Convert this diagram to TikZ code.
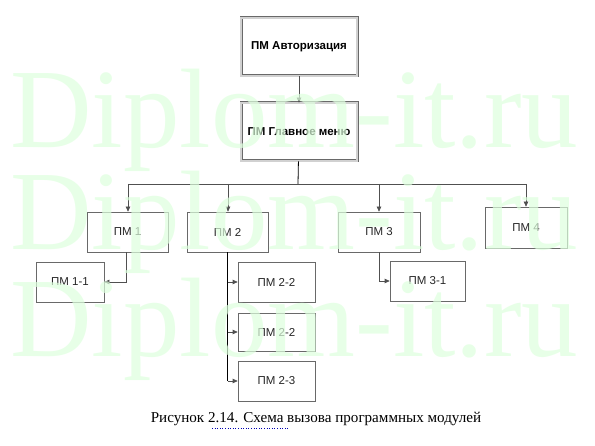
\documentclass[tikz,border=0pt]{standalone}
\usepackage{fontspec}
\setmainfont{Liberation Serif}
\setsansfont{Liberation Sans}
\usetikzlibrary{arrows.meta}
\definecolor{ln}{RGB}{80,80,80}
\definecolor{bx}{RGB}{105,105,105}
\definecolor{wm}{RGB}{222,255,222}
\begin{document}
\begin{tikzpicture}[x=1pt,y=-1pt,
  pmbox/.style={draw=bx, line width=0.7pt, inner sep=0pt, text=black!85,
    font=\sffamily\fontsize{11.5}{13}\selectfont},
  topbox/.style={pmbox, double=black!18, double distance=1.6pt, text=black,
    minimum width=116pt, minimum height=58pt,
    font=\sffamily\bfseries\fontsize{11.5}{13}\selectfont},
  wire/.style={draw=ln, line width=0.7pt},
  conn/.style={wire, -{Triangle[length=5pt,width=4.5pt]}},
  wmark/.style={text=wm, text opacity=0.7, inner sep=0pt, anchor=base west,
    font=\rmfamily\fontsize{113}{113}\selectfont},
  caption/.style={inner sep=0pt, anchor=base, font=\rmfamily\fontsize{15.1}{17}\selectfont}
]
\useasboundingbox (0,0) rectangle (595,446);
\fill[white] (0,0) rectangle (595,446);

\node[topbox] (auth) at (299,47) {ПМ Авторизация};
\node[topbox] (main) at (299,132) {ПМ Главное меню};

\node[pmbox, minimum width=81pt, minimum height=40pt] (pm1) at (127.5,232) {ПМ 1};
\node[pmbox, minimum width=81pt, minimum height=40pt] (pm2) at (227.5,232) {ПМ 2};
\node[pmbox, minimum width=82pt, minimum height=40pt] (pm3) at (379,232) {ПМ 3};
\node[pmbox, minimum width=82pt, minimum height=41pt] (pm4) at (526,227.5) {ПМ 4};

\node[pmbox, minimum width=68pt, minimum height=40pt] (pm11) at (70,282) {ПМ 1-1};
\node[pmbox, minimum width=77pt, minimum height=40pt] (pm22a) at (276.5,282) {ПМ 2-2};
\node[pmbox, minimum width=77pt, minimum height=38pt] (pm22b) at (276.5,332) {ПМ 2-2};
\node[pmbox, minimum width=77pt, minimum height=40pt] (pm23) at (276.5,381) {ПМ 2-3};
\node[pmbox, minimum width=75pt, minimum height=40pt] (pm31) at (427.5,281) {ПМ 3-1};

\draw[conn] (auth) -- (main);

\coordinate (bus) at (298,184);
\coordinate (b1) at (128,184);
\coordinate (b2) at (228,184);
\coordinate (b3) at (379,184);
\coordinate (b4) at (526,184);
\draw[line width=0.8pt, black] (main) -- (bus);
\draw[wire] (b1) -- (b4);
\draw[conn] (b1) -- (b1 |- pm1.north);
\draw[conn] (b2) -- (b2 |- pm2.north);
\draw[conn] (b3) -- (b3 |- pm3.north);
\draw[conn] (b4) -- (b4 |- pm4.north);

\draw[conn] ([xshift=-1.5pt]pm1.south) |- (pm11.east);
\draw[wire, black] (pm2.south) -- (pm2.south |- pm23.west);
\draw[conn] (pm2.south |- pm22a.west) -- (pm22a.west);
\draw[conn] (pm2.south |- pm22b.west) -- (pm22b.west);
\draw[conn] (pm2.south |- pm23.west) -- (pm23.west);
\draw[conn] (pm3.south) |- (pm31.west);

\node[caption] (cap) at (316,423) {Рисунок 2.14. Схема вызова программных модулей};
\draw[blue!70!black, line width=0.6pt, dotted] (212,428) -- (289,428);

\node[wmark] (w1) at (10,148) {Diplom-it.ru};
\node[wmark] (w2) at (10,250) {Diplom-it.ru};
\node[wmark] (w3) at (10,357) {Diplom-it.ru};
\end{tikzpicture}
\end{document}
